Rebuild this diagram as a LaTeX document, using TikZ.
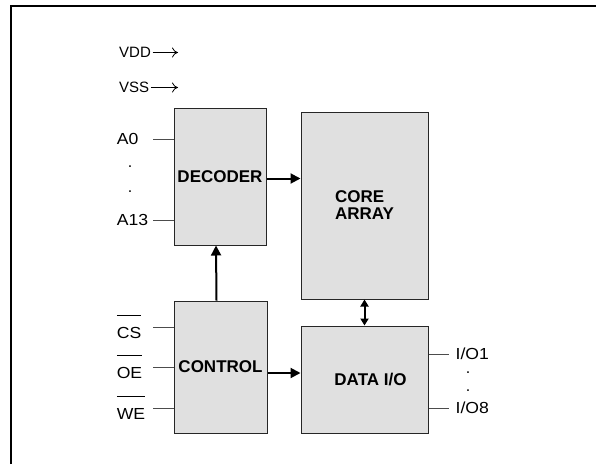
\documentclass[tikz,border=0pt]{standalone}
\usepackage{fontspec}
\setmainfont{Liberation Sans}
\newfontfamily\pinfont[FakeStretch=1.1]{Liberation Sans}
\usetikzlibrary{arrows.meta}

% active-low signal name
\newcommand{\barsig}[1]{\vbox{\hrule height 0.9pt\vskip 12pt\hbox{#1}}}

\tikzset{
  block/.style={draw=black!85, line width=1pt, fill=black!12, inner sep=1pt,
    font=\fontsize{17}{17}\selectfont\bfseries},
  inpin/.style={anchor=east, inner sep=0pt, text width=36pt, align=left,
    font=\pinfont\fontsize{16}{19}\selectfont},
  outpin/.style={anchor=west, inner xsep=6.5pt, inner ysep=0pt,
    font=\pinfont\fontsize{16}{19}\selectfont},
  supply/.style={anchor=west, inner xsep=1.5pt, inner ysep=0pt,
    font=\fontsize{15}{18}\selectfont},
  dot/.style={inner sep=0pt, font=\fontsize{16}{19}\selectfont},
  pinline/.style={draw=black!70, line width=0.9pt},
  bus/.style={line width=2pt, -{Triangle[length=10pt,width=10pt]}},
  busboth/.style={line width=2pt,
    {Triangle[length=7pt,width=8pt]}-{Triangle[length=7pt,width=8pt]}},
}

\begin{document}
\begin{tikzpicture}[x=1pt,y=-1pt]
  \useasboundingbox (0,0) rectangle (596,464);

  % Frame
  \draw[line width=2pt] (11,464) -- (11,6) -- (596,6);

  % Supply
  \node[supply] (vdd) at (117.5,52.5) {VDD};
  \node[supply] (vss) at (117.5,87.5) {VSS};
  \coordinate (vddtip) at (178,52.5);
  \coordinate (vsstip) at (178,87.5);
  \draw[line width=0.8pt, -{To[length=6pt,width=10pt]}] (vdd.east) -- (vddtip);
  \draw[line width=0.8pt, -{To[length=6pt,width=10pt]}] (vss.east) -- (vsstip);

  % Blocks
  \node[block, minimum width=92pt, minimum height=137pt] (decoder) at (220,176.5) {DECODER};
  \node[block, minimum width=127pt, minimum height=187pt, align=left] (core) at (364.5,205.5) {CORE\\ARRAY};
  \node[block, minimum width=93pt, minimum height=132pt] (control) at (220.5,367) {CONTROL};
  \node[block, minimum width=127pt, minimum height=107pt] (data) at (364.5,379.5) {\raisebox{-3pt}{\hspace*{12pt}DATA I/O}};

  % Address pins
  \node[inpin] (a0) at (153,139) {A0};
  \node[dot] (adot1) at (130,167) {.};
  \node[dot] (adot2) at (130,192) {.};
  \node[inpin] (a13) at (153,220) {A13};
  \draw[pinline] (a0.east) -- (a0.east -| decoder.west);
  \draw[pinline] (a13.east) -- (a13.east -| decoder.west);

  % Control pins
  \node[inpin] (cs) at (153,327) {\barsig{CS}};
  \node[inpin] (oe) at (153,367) {\barsig{OE}};
  \node[inpin] (we) at (153,408) {\barsig{WE}};
  \draw[pinline] (cs.east) -- (cs.east -| control.west);
  \draw[pinline] (oe.east) -- (oe.east -| control.west);
  \draw[pinline] (we.east) -- (we.east -| control.west);

  % Data pins
  \node[outpin] (io1) at (449,354) {I/O1};
  \node[dot] (iodot1) at (468,373) {.};
  \node[dot] (iodot2) at (468,391) {.};
  \node[outpin] (io8) at (449,408) {I/O8};
  \draw[pinline] (io1.west -| data.east) -- (io1.west);
  \draw[pinline] (io8.west -| data.east) -- (io8.west);

  % Buses
  \draw[bus] ([yshift=-2pt]decoder.east) -- ([yshift=-2pt]decoder.east -| core.west);
  \draw[bus] ([xshift=-4pt]control.north) -- ([xshift=-4pt]decoder.south);
  \draw[bus] ([yshift=-6pt]control.east) -- ([yshift=-6pt]control.east -| data.west);
  \draw[busboth] (core.south) -- (data.north);
\end{tikzpicture}
\end{document}
